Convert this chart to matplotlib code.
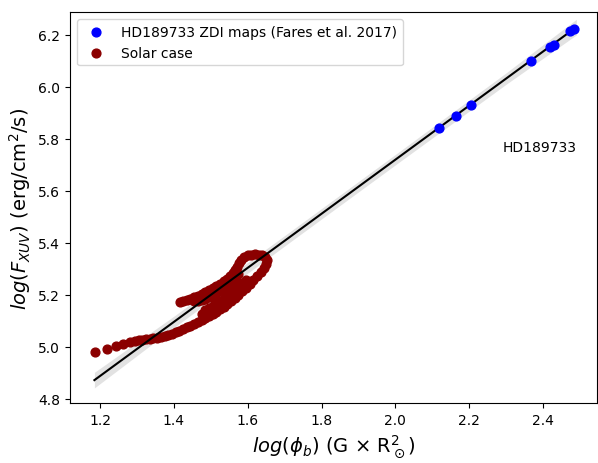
import matplotlib
matplotlib.use("Agg")
import matplotlib.pyplot as plt
import numpy as np

# HD189733 ZDI maps
hd_x = [2.118, 2.163, 2.204, 2.368, 2.418, 2.430, 2.474, 2.484]
hd_y = [5.841, 5.890, 5.931, 6.101, 6.153, 6.163, 6.214, 6.223]

# Solar case trajectory
solar_x = [1.186, 1.218, 1.243, 1.263, 1.281, 1.295,
           1.305, 1.315, 1.325, 1.335, 1.345, 1.355, 1.365, 1.375, 1.385, 1.395,
           1.405, 1.415, 1.425, 1.435, 1.445, 1.455, 1.465, 1.475, 1.485, 1.495,
           1.505, 1.515, 1.525, 1.535, 1.545, 1.555, 1.565, 1.575, 1.585, 1.595,
           1.605, 1.615, 1.625, 1.635, 1.643, 1.649, 1.652,
           1.648, 1.640, 1.630, 1.620, 1.610, 1.600, 1.590, 1.582, 1.576, 1.571, 1.566,
           1.560, 1.553, 1.545, 1.535, 1.525, 1.515, 1.505, 1.495, 1.485, 1.475,
           1.465, 1.455, 1.445, 1.435, 1.425, 1.416,
           1.475, 1.485, 1.495, 1.505, 1.515, 1.525, 1.535, 1.545, 1.555, 1.565, 1.575, 1.585, 1.595,
           1.455, 1.465, 1.475, 1.485, 1.495, 1.505, 1.515, 1.525, 1.535, 1.545, 1.555, 1.565, 1.575]
solar_y = [4.982, 4.992, 5.003, 5.010, 5.017, 5.022,
           5.025, 5.027, 5.029, 5.031, 5.033, 5.036, 5.039, 5.042, 5.046, 5.051,
           5.056, 5.062, 5.068, 5.075, 5.082, 5.089, 5.096, 5.103, 5.111, 5.119,
           5.127, 5.136, 5.145, 5.155, 5.166, 5.177, 5.189, 5.201, 5.214, 5.228,
           5.243, 5.258, 5.273, 5.289, 5.305, 5.320, 5.335,
           5.347, 5.353, 5.355, 5.356, 5.355, 5.352, 5.345, 5.335, 5.322, 5.309, 5.296,
           5.284, 5.273, 5.262, 5.252, 5.243, 5.234, 5.226, 5.218, 5.211, 5.204,
           5.197, 5.191, 5.185, 5.180, 5.176, 5.172,
           5.125, 5.140, 5.150, 5.158, 5.167, 5.176, 5.186, 5.196, 5.207, 5.219, 5.232, 5.245, 5.258,
           5.175, 5.178, 5.182, 5.186, 5.190, 5.198, 5.207, 5.216, 5.226, 5.237, 5.248, 5.262, 5.280]

# Linear fit and confidence band
fit_slope = 1.0406
fit_intercept = 3.639
fit_x = [1.185, 1.40, 1.70, 2.00, 2.30, 2.490]
band_half = [0.030, 0.022, 0.020, 0.020, 0.022, 0.030]

fig = plt.figure(figsize=(5.98, 4.64), dpi=100)
ax = fig.add_axes([0.1171, 0.1287, 0.8819, 0.8426])

fx = np.array(fit_x)
fy = fit_slope * fx + fit_intercept
hb = np.array(band_half)
ax.fill_between(fx, fy - hb, fy + hb, color='#e2e2e2', lw=0, zorder=1)
ax.scatter(solar_x, solar_y, s=40, color='#8b0000', zorder=2, label='Solar case')
ax.plot(fx, fy, color='black', lw=1.5, zorder=3)
ax.scatter(hd_x, hd_y, s=40, color='#0000ff', zorder=4,
           label='HD189733 ZDI maps (Fares et al. 2017)')

ax.text(2.39, 5.769, 'HD189733', ha='center', va='center', fontsize=10)

ax.set_xlim(1.119, 2.547)
ax.set_ylim(4.783, 6.287)
ax.set_xticks([1.2, 1.4, 1.6, 1.8, 2.0, 2.2, 2.4])
ax.set_yticks([4.8, 5.0, 5.2, 5.4, 5.6, 5.8, 6.0, 6.2])

ax.set_xlabel(r'$log(\phi_b)$ (G $\times$ R$^2_\odot$)', fontsize=14)
ax.set_ylabel(r'$log(F_{XUV})$ (erg/cm$^2$/s)', fontsize=14)

handles, labels = ax.get_legend_handles_labels()
order = [1, 0]
ax.legend([handles[i] for i in order], [labels[i] for i in order],
          loc='upper left', fontsize=10, scatterpoints=1)

fig.savefig('out.png', dpi=100)
